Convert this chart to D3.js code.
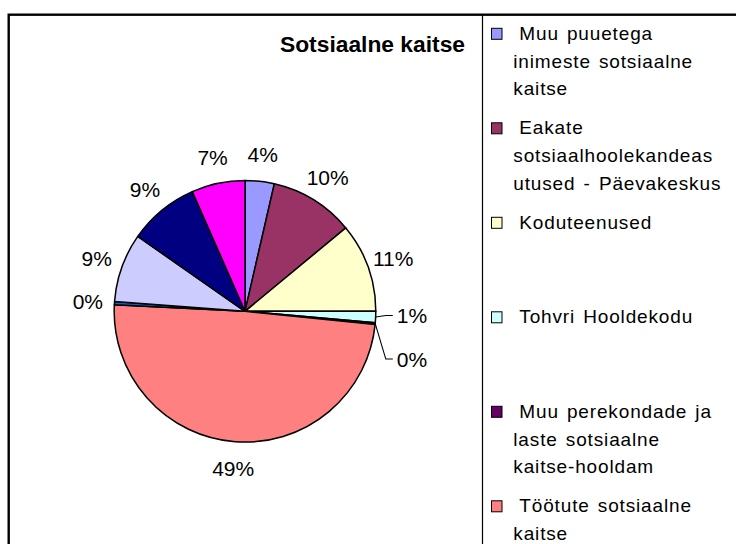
<!DOCTYPE html>
<html><head><meta charset="utf-8">
<script src="https://cdn.jsdelivr.net/npm/d3@7/dist/d3.min.js"></script>
<style>body{margin:0;background:#fff}</style>
</head><body>
<svg id="c" width="736" height="544"></svg>
<script>
// ---- data ----
const title = "Sotsiaalne kaitse";
const categories = [
  "Muu puuetega inimeste sotsiaalne kaitse",
  "Eakate sotsiaalhoolekandeasutused - Päevakeskus",
  "Koduteenused",
  "Tohvri Hooldekodu",
  "Muu perekondade ja laste sotsiaalne kaitse-hooldam",
  "Töötute sotsiaalne kaitse",
  "Kategooria 7",
  "Kategooria 8",
  "Kategooria 9",
  "Kategooria 10"
];
const values = [3.6, 10.4, 11.0, 1.4, 0.2, 49.2, 0.4, 8.5, 8.7, 6.6];
const colors = ["#9999FF","#993366","#FFFFCC","#CCFFFF","#660066","#FF8080","#0066CC","#CCCCFF","#000080","#FF00FF"];
// legend text as wrapped in the picture (only visible entries)
const legendLines = [
  ["Muu puuetega","inimeste sotsiaalne","kaitse"],
  ["Eakate","sotsiaalhoolekandeas","utused - Päevakeskus"],
  ["Koduteenused"],
  ["Tohvri Hooldekodu"],
  ["Muu perekondade ja","laste sotsiaalne","kaitse-hooldam"],
  ["Töötute sotsiaalne","kaitse"]
];

// ---- layout ----
const W = 736, H = 544;
const svg = d3.select("#c");
const font = "'Liberation Sans', Arial, Helvetica, sans-serif";
const cx = 245, cy = 311.3, r = 130.8;

// frame
svg.append("rect").attr("x", 8.7).attr("y", 14.7).attr("width", 900).attr("height", 700)
  .attr("fill", "#fff").attr("stroke", "#000").attr("stroke-width", 2.4);
const legendX = 482.5;
svg.append("line").attr("x1", legendX).attr("x2", legendX).attr("y1", 14.7).attr("y2", H + 5)
  .attr("stroke", "#000").attr("stroke-width", 1.2);

// title
svg.append("text").attr("x", 465).attr("y", 51.7).attr("text-anchor", "end")
  .attr("font-family", font).attr("font-weight", "bold").attr("font-size", 22.8)
  .attr("fill", "#000").text(title);

// pie
const data = categories.map((c, i) => ({ name: c, value: values[i], color: colors[i] }));
const total = d3.sum(values);
const pie = d3.pie().sort(null).value(d => d.value);
const arcs = pie(data);
const arc = d3.arc().innerRadius(0).outerRadius(r);
const g = svg.append("g").attr("transform", `translate(${cx},${cy})`);
g.selectAll("path.slice").data(arcs).join("path").attr("class", "slice")
  .attr("d", arc).attr("fill", d => d.data.color)
  .attr("stroke", "#000").attr("stroke-width", 1.5).attr("stroke-linejoin", "round");

// labels
const labelR = 157.5;
const labelArc = d3.arc().innerRadius(labelR).outerRadius(labelR);
const edgeArc = d3.arc().innerRadius(r).outerRadius(r);
const pct = d => Math.round(d.value / total * 100) + "%";
const labelFont = 21;
let stackY = null;
arcs.forEach(a => {
  const mid = (a.startAngle + a.endAngle) / 2;
  const small = a.value / total < 0.02 && Math.sin(mid) > 0;
  if (small) {
    const p = edgeArc.centroid(a);
    const ly = stackY === null ? p[1] - 1.5 : stackY + 43.5;
    stackY = ly;
    const lx = r + 21;
    const path = d3.path();
    path.moveTo(p[0], p[1]);
    path.lineTo(lx - 11, ly);
    path.lineTo(lx - 4, ly);
    g.append("path").attr("d", path.toString()).attr("fill", "none")
      .attr("stroke", "#000").attr("stroke-width", 1.1);
    g.append("text").attr("x", lx).attr("y", ly).attr("dy", "0.36em")
      .attr("text-anchor", "start").attr("font-family", font).attr("font-size", labelFont)
      .attr("fill", "#000").text(pct(a));
  } else {
    const c = labelArc.centroid(a);
    g.append("text").attr("x", c[0]).attr("y", c[1]).attr("dy", "0.36em")
      .attr("text-anchor", "middle").attr("font-family", font).attr("font-size", labelFont)
      .attr("fill", "#000").text(pct(a));
  }
});

// legend
const slot = 94.5, firstBase = 39.8, lineH = 27.8;
const lg = svg.append("g");
legendLines.forEach((lines, i) => {
  const base = firstBase + i * slot;
  lg.append("rect").attr("x", 491.5).attr("y", base - 11.5).attr("width", 10.5).attr("height", 11)
    .attr("fill", data[i].color).attr("stroke", "#000").attr("stroke-width", 1);
  lines.forEach((t, j) => {
    lg.append("text").attr("x", j === 0 ? 519.3 : 513.3).attr("y", base + j * lineH)
      .attr("font-family", font).attr("font-size", 19).attr("letter-spacing", "0.85px")
      .attr("word-spacing", "2px")
      .attr("fill", "#000").text(t);
  });
});
</script>
</body></html>
